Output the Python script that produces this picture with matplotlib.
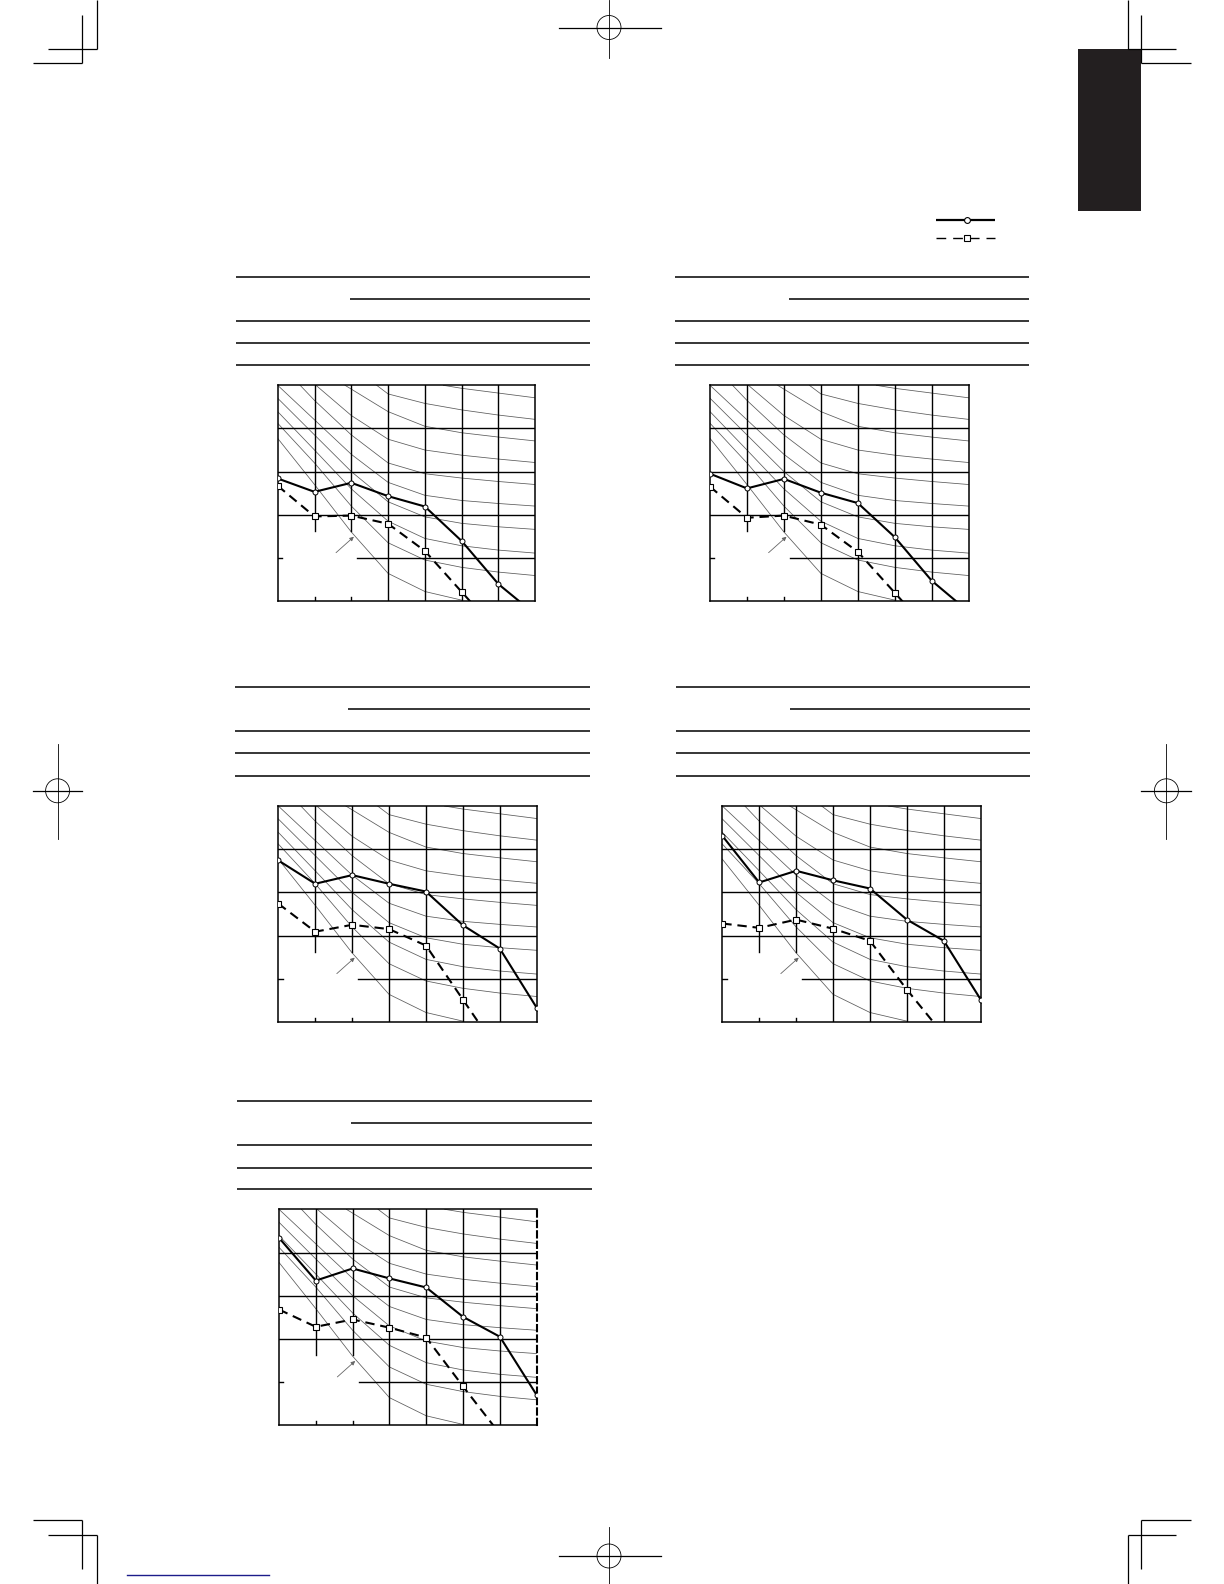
import matplotlib
matplotlib.use("Agg")
import matplotlib.pyplot as plt
from matplotlib.patches import Rectangle, Circle

# ---------------- data ----------------
x_points = [0, 1, 2, 3, 4, 5, 6, 7]
x_dashed = [0, 1, 2, 3, 4, 5, 6]

solid_1 = [2.84, 2.53, 2.74, 2.43, 2.19, 1.39, 0.39, -0.31]
dashed_1 = [2.67, 1.96, 1.98, 1.79, 1.16, 0.21, -0.74]

solid_2 = [2.95, 2.61, 2.83, 2.51, 2.27, 1.48, 0.47, -0.25]
dashed_2 = [2.65, 1.93, 1.98, 1.77, 1.14, 0.19, -0.76]

solid_3 = [3.74, 3.20, 3.40, 3.20, 3.02, 2.24, 1.70, 0.33]
dashed_3 = [2.74, 2.09, 2.25, 2.15, 1.77, 0.52, -0.73]

solid_4 = [4.31, 3.23, 3.50, 3.28, 3.09, 2.37, 1.88, 0.52]
dashed_4 = [2.28, 2.18, 2.37, 2.16, 1.88, 0.75, -0.30]

solid_5 = [4.34, 3.35, 3.63, 3.40, 3.19, 2.51, 2.05, 0.70]
dashed_5 = [2.68, 2.28, 2.45, 2.26, 2.03, 0.90, -0.20]

solid_series = [solid_1, solid_2, solid_3, solid_4, solid_5]
dashed_series = [dashed_1, dashed_2, dashed_3, dashed_4, dashed_5]

# background iso-curves (same family on every chart)
curve_xs = [
    [4.5, 5, 6, 7],
    [2.69, 3, 4, 5, 6, 7],
    [1.83, 3, 4, 5, 6, 7],
    [1.04, 2, 3, 4, 5, 6, 7],
    [0.61, 1, 2, 3, 4, 5, 6, 7],
    [0, 1, 2, 3, 4, 5, 6, 7],
    [0, 1, 2, 3, 4, 5, 6, 7],
    [0, 1, 2, 3, 4, 5, 6, 7],
    [0, 1, 2, 3, 4, 5, 6, 7],
    [0, 1, 2, 3, 4, 5],
]
curve_ys = [
    [5.0, 4.93, 4.82, 4.71],
    [5.0, 4.80, 4.58, 4.43, 4.31, 4.21],
    [5.0, 4.39, 4.05, 3.90, 3.80, 3.71],
    [5.0, 4.30, 3.75, 3.50, 3.38, 3.29, 3.21],
    [5.0, 4.65, 3.85, 3.20, 2.95, 2.85, 2.77, 2.70],
    [5.0, 4.20, 3.40, 2.75, 2.45, 2.33, 2.26, 2.20],
    [4.70, 3.85, 3.00, 2.30, 1.95, 1.80, 1.72, 1.66],
    [4.39, 3.50, 2.60, 1.85, 1.45, 1.28, 1.18, 1.11],
    [4.12, 3.20, 2.20, 1.35, 0.95, 0.78, 0.67, 0.59],
    [3.77, 2.70, 1.60, 0.64, 0.22, 0.02],
]

# chart boxes in page pixels: left, right, top, bottom
chart_boxes = [
    (277.7, 535.3, 385.3, 601.0),
    (710.0, 968.7, 385.3, 601.0),
    (278.3, 536.7, 806.0, 1022.0),
    (722.3, 980.7, 806.0, 1022.0),
    (279.0, 536.7, 1209.3, 1425.3),
]
# header rule tables: x_left, x_right, x_left_second, y rows
tables = [
    (235.5, 590.0, 350.0, [277.0, 299.0, 321.0, 343.0, 365.0]),
    (674.6, 1029.0, 788.7, [277.0, 299.0, 321.0, 343.0, 365.0]),
    (235.3, 589.8, 348.4, [686.7, 709.0, 731.0, 753.4, 775.6]),
    (675.6, 1030.0, 789.7, [686.7, 709.0, 731.0, 753.4, 775.6]),
    (237.3, 591.8, 351.4, [1100.8, 1123.0, 1145.0, 1167.5, 1188.7]),
]

W, H = 1224, 1584
fig = plt.figure(figsize=(W / 100, H / 100), dpi=100)
bg = fig.add_axes([0, 0, 1, 1])
bg.set_xlim(0, W)
bg.set_ylim(H, 0)
bg.axis('off')

K = 'black'
# crop marks
for (x0, x1, y0, y1) in [
    (97.3, 97.3, 0, 49.3), (48.3, 97.3, 49.3, 49.3),
    (82.3, 82.3, 15, 63.3), (33.3, 82.3, 63.3, 63.3),
    (1127.7, 1127.7, 0, 49.3), (1127.7, 1175.7, 49.3, 49.3),
    (1141.3, 1141.3, 15, 63.3), (1141.3, 1190.7, 63.3, 63.3),
    (33.3, 82.3, 1520.3, 1520.3), (82.3, 82.3, 1520.3, 1568.7),
    (48.3, 97.3, 1535, 1535), (97.3, 97.3, 1535, 1584),
    (1141.3, 1190.7, 1520.3, 1520.3), (1141.3, 1141.3, 1520.3, 1568.7),
    (1127.7, 1175.7, 1535, 1535), (1127.7, 1127.7, 1535, 1584),
]:
    bg.plot([x0, x1], [y0, y1], color=K, lw=0.9, solid_capstyle='butt')

# registration marks
for (cx, cy, hx0, hx1, vy0, vy1) in [
    (609, 27.5, 558.5, 660.5, 0, 57.6),
    (609, 1556, 558.5, 660.5, 1527, 1584),
    (57.6, 790.8, 33, 82, 744, 839),
    (1166.4, 790.8, 1141, 1190.6, 744, 839),
]:
    bg.plot([hx0, hx1], [cy, cy], color=K, lw=0.9)
    bg.plot([cx, cx], [vy0, vy1], color=K, lw=0.6)
    bg.add_patch(Circle((cx, cy), 12, fill=False, ec=K, lw=0.6))

# black tab
bg.add_patch(Rectangle((1078, 49.3), 63.3, 161.4, color='#231f20', lw=0))
# blue underline
bg.plot([127, 268.7], [1575.3, 1575.3], color='#1c1c8a', lw=1.0)

# legend
bg.plot([936, 995], [220, 220], color=K, lw=1.6, solid_capstyle='butt')
bg.plot([966.7], [220], marker='o', ms=4.2, mfc='white', mec=K, mew=0.8)
bg.plot([936, 995], [238.3, 238.3], color=K, lw=1.0, dashes=(7, 5))
bg.plot([967.3], [238.3], marker='s', ms=5, mfc='white', mec=K, mew=0.8)

# tables
for (xl, xr, xs, ys) in tables:
    for i, y in enumerate(ys):
        bg.plot([xs if i == 1 else xl, xr], [y, y], color=K, lw=1.1, solid_capstyle='butt')

# charts
for idx, (l, r, t, b) in enumerate(chart_boxes):
    ax = fig.add_axes([l / W, 1 - b / H, (r - l) / W, (b - t) / H])
    ax.set_xlim(0, 7)
    ax.set_ylim(0, 5)
    ax.set_xticks([])
    ax.set_yticks([])
    for s in ax.spines.values():
        s.set_linewidth(1.1)
    if idx == 4:
        ax.spines['right'].set_linestyle((0, (3, 2)))
        ax.spines['right'].set_linewidth(1.5)
    # iso curves
    for cx, cy in zip(curve_xs, curve_ys):
        ax.plot(cx, cy, color='#5a5a5a', lw=0.55)
    # grid
    for gx in [3, 4, 5, 6]:
        ax.plot([gx, gx], [0, 5], color=K, lw=1.0)
    for gx in [1, 2]:
        ax.plot([gx, gx], [1.63, 5], color=K, lw=1.0)
        ax.plot([gx, gx], [0, 0.1], color=K, lw=1.0)
    for gy in [2, 3, 4]:
        ax.plot([0, 7], [gy, gy], color=K, lw=1.0)
    ax.plot([0, 0.12], [1, 1], color=K, lw=1.0)
    ax.plot([2.16, 7], [1, 1], color=K, lw=1.0)
    # arrow
    ax.annotate('', xy=(2.07, 1.49), xytext=(1.585, 1.12),
                arrowprops=dict(arrowstyle='-|>', color='#666666', lw=0.6,
                                mutation_scale=6, shrinkA=0, shrinkB=0))
    # series
    ax.plot(x_dashed, dashed_series[idx], color=K, lw=1.5, dashes=(4.5, 2.8),
            marker='s', ms=4.2, mfc='white', mec=K, mew=0.8, zorder=5)
    ax.plot(x_points, solid_series[idx], color=K, lw=1.5,
            marker='o', ms=3.6, mfc='white', mec=K, mew=0.7, zorder=6)

fig.savefig('out.png', dpi=100)
